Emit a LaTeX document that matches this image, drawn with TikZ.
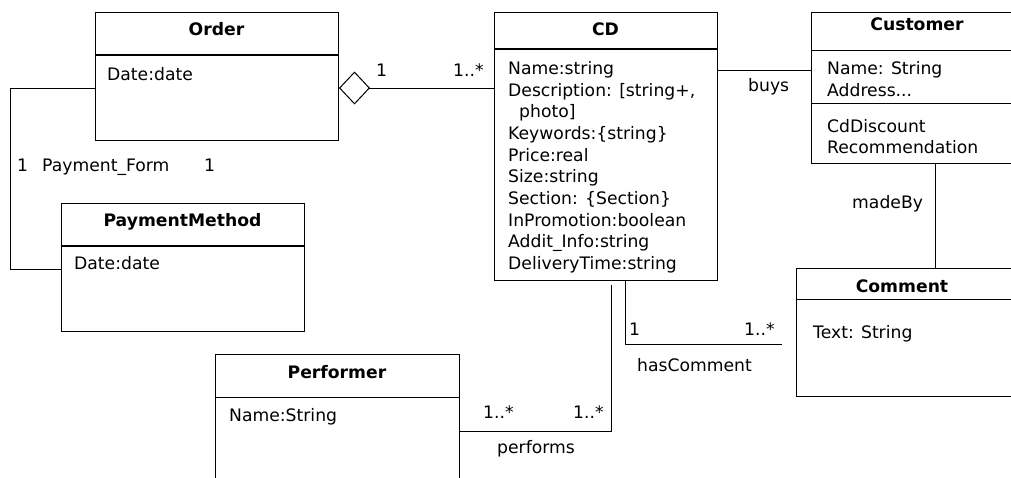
\documentclass[tikz,border=0pt]{standalone}
\usepackage{fontspec}
\setmainfont{DejaVu Sans}
\usetikzlibrary{arrows.meta}
\newcommand\umlfont{\fontsize{17.2}{21.7}\selectfont}
\tikzset{
  box/.style={draw, line width=1pt, rectangle, inner sep=0pt, anchor=north west},
  title/.style={font=\umlfont\bfseries, anchor=base, inner sep=0pt},
  attr/.style={font=\umlfont, anchor=base west, inner sep=0pt},
  lbl/.style={font=\umlfont, anchor=base west, inner sep=0pt},
  thicksep/.style={line width=2.4pt},
  thinsep/.style={line width=1pt},
  conn/.style={line width=1pt},
}
\begin{document}
\begin{tikzpicture}[x=1pt,y=-1pt]
\useasboundingbox (0,0) rectangle (1011,477);
\begin{scope}
\clip (0,0) rectangle (1011,477);
% boxes
\node[box, minimum width=243pt, minimum height=128pt] (order) at (95,12) {};
\node[box, minimum width=223pt, minimum height=268pt] (cd) at (494,12) {};
\node[box, minimum width=220pt, minimum height=151pt] (cust) at (811,12) {};
\node[box, minimum width=243pt, minimum height=128pt] (pm) at (61,203) {};
\node[box, minimum width=244pt, minimum height=140pt] (perf) at (215,354) {};
\node[box, minimum width=235pt, minimum height=128pt] (com) at (796,268) {};
% separators
\draw[thicksep] (order.west |- 0,55) -- (order.east |- 0,55);
\draw[thicksep] (cd.west |- 0,49) -- (cd.east |- 0,49);
\draw[thinsep] (cust.west |- 0,50) -- (cust.east |- 0,50);
\draw[thinsep] (cust.west |- 0,103) -- (cust.east |- 0,103);
\draw[thicksep] (pm.west |- 0,246) -- (pm.east |- 0,246);
\draw[thinsep] (perf.west |- 0,397) -- (perf.east |- 0,397);
\draw[thinsep] (com.west |- 0,299) -- (com.east |- 0,299);
% titles
\node[title] (ordert) at (216.5,35) {Order};
\node[title] (cdt) at (605.5,35) {CD};
\node[title] (custt) at (917,30) {Customer};
\node[title] (pmt) at (182.5,226) {PaymentMethod};
\node[title] (perft) at (337,378) {Performer};
\node[title] (comt) at (902,292) {Comment};
% attributes
\node[attr] (oa1) at (107,80) {Date:date};
\node[attr] (pa1) at (74,269) {Date:date};
\node[attr] (pfa1) at (229,421) {Name:String};
\node[attr] (coa1) at (813,338) {Text: String};
\node[attr] (cua1) at (827,74) {Name: String};
\node[attr] (cua2) at (827,96) {Address...};
\node[attr] (cua3) at (827,132) {CdDiscount};
\node[attr] (cua4) at (827,153) {Recommendation};
\node[attr] (cda1) at (508,74) {Name:string};
\node[attr] (cda2) at (508,96) {Description: [string+,};
\node[attr] (cda3) at (519,117) {photo]};
\node[attr] (cda4) at (508,139) {Keywords:\{string\}};
\node[attr] (cda5) at (508,161) {Price:real};
\node[attr] (cda6) at (508,182) {Size:string};
\node[attr] (cda7) at (508,204) {Section: \{Section\}};
\node[attr] (cda8) at (508,226) {InPromotion:boolean};
\node[attr] (cda9) at (508,247) {Addit\_Info:string};
\node[attr] (cda10) at (508,269) {DeliveryTime:string};
% connectors
\draw[conn, {Diamond[open, length=31pt, width=33pt]}-] (order.east |- 0,88) -- (cd.west |- 0,88);
\draw[conn] (order.west |- 0,88) -- ++(-85,0) |- (pm.west |- 0,269);
\draw[conn] (cd.east |- 0,70) -- (cust.west |- 0,70);
\draw[conn] (cust.south -| 935,0) -- (com.north -| 935,0);
\draw[conn, shorten >=14pt] (cd.south -| 625,0) |- (com.west |- 0,344);
\draw[conn, shorten <=4pt] (cd.south -| 611,0) |- (perf.east |- 0,431);
% connector labels
\node[lbl] (l1) at (376,76) {1};
\node[lbl] (l2) at (453,76) {1..*};
\node[lbl] (l3) at (17,171) {1};
\node[lbl] (l4) at (42,171) {Payment\_Form};
\node[lbl] (l5) at (204,171) {1};
\node[lbl] (l6) at (748,91) {buys};
\node[lbl] (l7) at (852,208) {madeBy};
\node[lbl] (l8) at (629,335) {1};
\node[lbl] (l9) at (744,335) {1..*};
\node[lbl] (l10) at (637,371) {hasComment};
\node[lbl] (l11) at (483,418) {1..*};
\node[lbl] (l12) at (573,418) {1..*};
\node[lbl] (l13) at (497,453) {performs};
\end{scope}
\end{tikzpicture}
\end{document}
